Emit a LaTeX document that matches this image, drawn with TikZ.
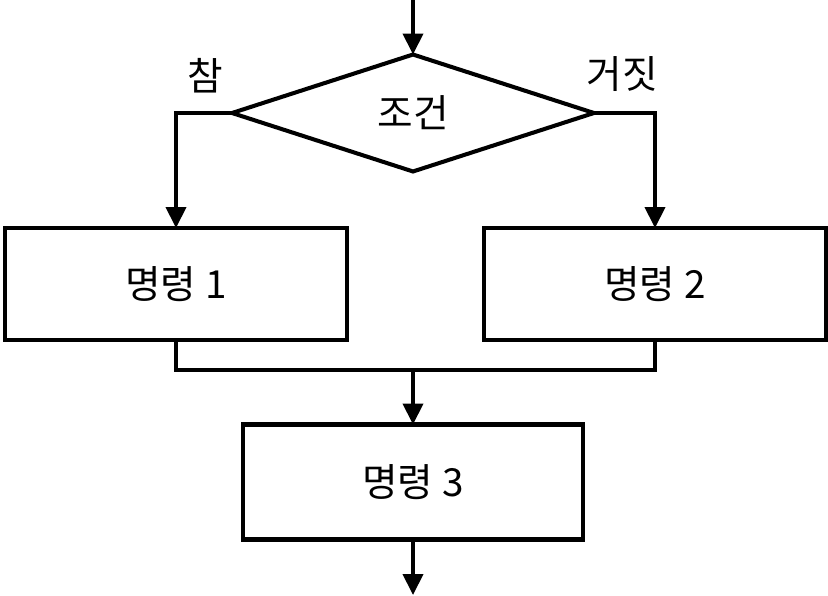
\documentclass[tikz,border=0pt]{standalone}
\usepackage{fontspec}
\setmainfont{Noto Sans CJK KR}
\usetikzlibrary{shapes.geometric,arrows.meta}
\tikzset{
  line/.style={line width=2.3pt},
  flow/.style={line, -{Triangle[length=0.42cm,width=0.4cm]}},
  cmdbox/.style={draw, line, rectangle, minimum width=6.84cm, minimum height=2.24cm, inner sep=0pt, outer sep=0pt},
  cond/.style={draw, line, diamond, minimum width=7.24cm, minimum height=2.34cm, inner sep=0pt, outer sep=0pt},
}
\newcommand{\BIG}[1]{{\fontsize{22}{26}\selectfont #1}}
\begin{document}
\begin{tikzpicture}[x=0.02cm,y=-0.02cm]
    \useasboundingbox (0,0) rectangle (828,595);
    \coordinate (start) at (413,0);
    \coordinate (finish) at (413,595);
    \node[cond] (test) at (413,113) {\BIG{조건}};
    \node[cmdbox] (cmd1) at (176,284) {\BIG{명령 1}};
    \node[cmdbox] (cmd2) at (655,284) {\BIG{명령 2}};
    \node[cmdbox, minimum width=6.8cm, minimum height=2.3cm] (cmd3) at (413,482) {\BIG{명령 3}};
    \coordinate (join) at (413,370);
    % branches
    \draw[flow] (start) -- (test.north);
    \draw[flow] (test.west) -| (cmd1.north);
    \draw[flow] (test.east) -| (cmd2.north);
    \draw[line] (cmd1.south) |- (join) -| (cmd2.south);
    \draw[flow] (join) -- (cmd3.north);
    \draw[flow] (cmd3.south) -- (finish);
    % labels
    \node (yes) at (205,76) {\BIG{참}};
    \node (no) at (622,74) {\BIG{거짓}};
\end{tikzpicture}
\end{document}
